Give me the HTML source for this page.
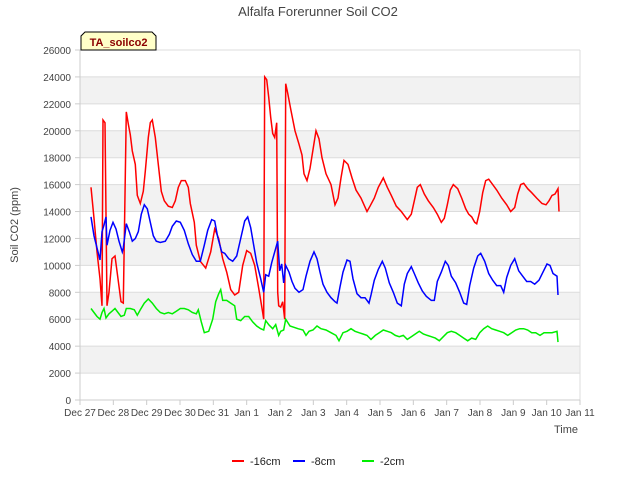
<!DOCTYPE html>
<html><head><meta charset="utf-8"><style>
body{margin:0;background:#fff;font-family:"Liberation Sans",sans-serif}
svg text{font-family:"Liberation Sans",sans-serif}
</style></head><body>
<svg id="chart" width="640" height="480" viewBox="0 0 640 480" xmlns="http://www.w3.org/2000/svg">
<rect width="640" height="480" fill="#fff"/>
<text x="318" y="16" text-anchor="middle" font-size="13" fill="#444">Alfalfa Forerunner Soil CO2</text>
<g id="grid"></g>
<g id="axes"></g>
<g id="series"></g>
<text transform="translate(18,225) rotate(-90)" text-anchor="middle" font-size="11" fill="#444">Soil CO2 (ppm)</text>
<text x="566" y="433" text-anchor="middle" font-size="11" fill="#444">Time</text>
<g>
<path d="M81,50 L81,36 L85,32 L152,32 L156,36 L156,50 Z" fill="#ffffc8" stroke="#000" stroke-width="1"/>
<text x="118.5" y="46" text-anchor="middle" font-size="11" font-weight="bold" fill="#8b0000">TA_soilco2</text>
</g>
<g id="legend"></g>
</svg>
<script>
const xTickLabels=["Dec 27","Dec 28","Dec 29","Dec 30","Dec 31","Jan 1","Jan 2","Jan 3","Jan 4","Jan 5","Jan 6","Jan 7","Jan 8","Jan 9","Jan 10","Jan 11"];
const yTicks=[0,2000,4000,6000,8000,10000,12000,14000,16000,18000,20000,22000,24000,26000];
const seriesNames=["-16cm","-8cm","-2cm"];
const redT=[0.33,0.42,0.51,0.60,0.66,0.69,0.75,0.81,0.87,0.96,1.05,1.14,1.23,1.30,1.39,1.45,1.51,1.57,1.66,1.72,1.81,1.90,1.96,2.05,2.11,2.17,2.26,2.35,2.44,2.53,2.65,2.77,2.86,2.95,3.04,3.16,3.25,3.31,3.43,3.49,3.61,3.77,3.92,4.04,4.16,4.28,4.40,4.52,4.64,4.76,4.88,5.00,5.12,5.24,5.36,5.48,5.51,5.54,5.60,5.66,5.72,5.78,5.84,5.90,5.93,5.96,6.02,6.08,6.14,6.17,6.23,6.33,6.45,6.57,6.66,6.72,6.81,6.90,6.99,7.08,7.17,7.26,7.38,7.53,7.65,7.74,7.83,7.92,8.04,8.16,8.28,8.43,8.52,8.61,8.70,8.83,8.95,9.10,9.22,9.34,9.49,9.64,9.73,9.82,9.94,10.03,10.12,10.21,10.33,10.45,10.60,10.72,10.84,10.93,11.02,11.11,11.20,11.33,11.45,11.57,11.66,11.75,11.84,11.90,11.99,12.08,12.17,12.26,12.38,12.50,12.65,12.80,12.92,13.04,13.13,13.22,13.31,13.43,13.55,13.70,13.86,13.98,14.07,14.16,14.25,14.34,14.37];
const redV=[15800,13500,11000,9000,7000,20800,20600,7000,8000,10500,10700,9000,7300,7200,21400,20500,19700,18500,17500,15200,14600,15500,17000,19500,20600,20800,19500,17500,15500,14800,14400,14300,14800,15800,16300,16300,15800,14600,13200,11500,10300,9800,11000,12700,12000,10500,9500,8200,7800,8000,10000,11100,10900,10000,8300,6500,6000,24000,23800,22500,21000,19800,19500,20600,8000,7000,6900,7300,6000,23500,22800,21500,20000,19000,18200,16800,16300,17200,18600,20000,19400,18000,16800,16000,14500,15000,16500,17800,17500,16500,15600,15000,14500,14000,14400,15000,15800,16500,15800,15200,14400,14000,13700,13400,13800,14800,15800,16000,15300,14800,14300,13800,13200,13500,14500,15600,16000,15700,15000,14200,13800,13600,13200,13100,14000,15400,16300,16400,16000,15600,15000,14500,14000,14300,15300,16000,16100,15700,15400,15000,14600,14500,14800,15200,15300,15700,14000];
const blueT=[0.33,0.42,0.51,0.60,0.66,0.72,0.78,0.81,0.90,0.99,1.08,1.17,1.27,1.30,1.39,1.48,1.57,1.66,1.75,1.84,1.93,2.02,2.11,2.20,2.29,2.41,2.56,2.68,2.77,2.89,3.01,3.13,3.25,3.37,3.49,3.61,3.73,3.83,3.95,4.04,4.13,4.25,4.34,4.46,4.58,4.70,4.82,4.94,5.03,5.12,5.21,5.30,5.42,5.51,5.57,5.66,5.75,5.84,5.93,5.99,6.05,6.11,6.17,6.27,6.36,6.45,6.57,6.69,6.78,6.90,7.02,7.11,7.20,7.29,7.41,7.53,7.65,7.71,7.80,7.89,8.01,8.10,8.19,8.31,8.43,8.55,8.67,8.73,8.83,8.95,9.07,9.16,9.28,9.40,9.52,9.64,9.73,9.82,9.94,10.03,10.15,10.27,10.39,10.54,10.63,10.72,10.84,10.96,11.05,11.14,11.27,11.39,11.51,11.60,11.69,11.81,11.93,12.02,12.14,12.26,12.38,12.50,12.62,12.71,12.80,12.92,13.04,13.16,13.28,13.40,13.52,13.64,13.77,13.89,14.01,14.10,14.19,14.31,14.34];
const blueV=[13600,12200,11300,10400,12500,13000,13600,11500,12600,13200,12700,11800,11000,11300,13100,12500,11800,12000,12500,13800,14500,14200,13200,12200,11800,11700,11800,12300,12900,13300,13200,12600,11600,10800,10300,10300,11500,12600,13400,13300,12100,11000,10900,10500,10300,10700,12000,13300,13600,12800,11500,10200,9000,8000,9300,9200,10200,11000,11800,9600,10100,8700,10000,9500,8800,8300,8000,8200,9200,10300,11000,10500,9500,8600,8000,7600,7300,7200,8400,9500,10400,10300,9000,7900,7600,7600,7200,7800,8900,9700,10300,9800,8700,8000,7200,7000,8600,9400,9900,9400,8700,8100,7700,7400,7400,8800,9500,10300,10000,9200,8700,8000,7200,7100,8500,9800,10700,10900,10300,9400,8900,8500,8500,8000,9100,10000,10500,9600,9200,8800,8800,8600,8900,9500,10100,10000,9400,9200,7800];
const greenT=[0.33,0.42,0.51,0.60,0.66,0.72,0.78,0.87,0.96,1.05,1.14,1.23,1.33,1.39,1.51,1.63,1.72,1.81,1.93,2.05,2.17,2.29,2.41,2.53,2.65,2.77,2.89,3.01,3.13,3.25,3.37,3.49,3.55,3.64,3.73,3.86,3.98,4.07,4.16,4.22,4.28,4.40,4.52,4.64,4.70,4.82,4.94,5.06,5.18,5.30,5.42,5.51,5.57,5.66,5.78,5.87,5.96,6.02,6.11,6.17,6.30,6.42,6.54,6.69,6.78,6.87,6.99,7.11,7.23,7.38,7.53,7.68,7.77,7.89,8.01,8.13,8.25,8.37,8.49,8.61,8.73,8.86,8.98,9.10,9.22,9.34,9.46,9.58,9.70,9.82,9.94,10.06,10.18,10.30,10.42,10.54,10.66,10.78,10.90,11.02,11.14,11.27,11.39,11.51,11.63,11.75,11.87,11.99,12.11,12.23,12.35,12.47,12.59,12.71,12.83,12.95,13.07,13.19,13.31,13.43,13.55,13.67,13.80,13.92,14.04,14.16,14.31,14.34];
const greenV=[6800,6500,6200,6000,6500,6800,6100,6400,6600,6800,6500,6200,6300,6800,6800,6700,6300,6700,7200,7500,7200,6800,6500,6400,6500,6400,6600,6800,6800,6700,6500,6400,6700,5800,5000,5100,6000,7300,7900,8200,7400,7400,7200,7000,6000,5900,6200,6200,5800,5500,5300,5200,5900,5600,5300,5600,4800,5100,5200,6000,5500,5400,5300,5200,4800,5100,5200,5500,5300,5200,5000,4800,4400,5000,5100,5300,5100,5000,4900,4800,4500,4800,5000,5200,5100,5000,4800,4700,4800,4500,4700,4900,5100,4900,4800,4700,4600,4400,4700,5000,5100,5000,4800,4600,4400,4600,4500,5000,5300,5500,5300,5200,5100,5000,4800,5000,5200,5300,5300,5200,5000,5000,4800,5000,5000,5000,5100,4300];

const NS="http://www.w3.org/2000/svg";
const L=80,R=580,T=50,B=400,yMax=26000,dayMax=15;
const xs=d=>L+d/dayMax*(R-L);
const ys=v=>B-v/yMax*(B-T);
function mk(tag,attrs,parent){const e=document.createElementNS(NS,tag);for(const k in attrs)e.setAttribute(k,attrs[k]);parent.appendChild(e);return e;}
const grid=document.getElementById('grid'),axes=document.getElementById('axes'),series=document.getElementById('series'),legend=document.getElementById('legend');
for(let i=0;i<yTicks.length-1;i++){
  if(i%2===1){const b=mk('rect',{x:L,y:ys(yTicks[i+1]),width:R-L,height:ys(yTicks[i])-ys(yTicks[i+1]),fill:'#f2f2f2'},grid);
  
  }
}
yTicks.forEach(v=>{
  const l=mk('line',{x1:L,x2:R,y1:ys(v),y2:ys(v),stroke:'#dcdcdc','stroke-width':1},grid);
  
  
  const t=mk('text',{x:L-9,y:ys(v)+4,'text-anchor':'end','font-size':10,fill:'#444'},axes);
  
  
  t.textContent=v;
  mk('line',{x1:L-5,x2:L,y1:ys(v),y2:ys(v),stroke:'#ccc'},axes);
});
mk('line',{x1:R,x2:R,y1:T,y2:B,stroke:'#ddd'},axes);
mk('line',{x1:L,x2:L,y1:T,y2:B,stroke:'#ccc'},axes);
mk('line',{x1:L,x2:R,y1:B,y2:B,stroke:'#ccc'},axes);
xTickLabels.forEach((s,i)=>{
  mk('line',{x1:xs(i),x2:xs(i),y1:B,y2:B+5,stroke:'#ccc'},axes);
  const t=mk('text',{x:xs(i),y:B+16,'text-anchor':'middle','font-size':10,fill:'#444'},axes);
  
  
  t.textContent=s;
});
const colors=['#ff0000','#0000ff','#00ee00'];
[[redT,redV],[blueT,blueV],[greenT,greenV]].forEach((s,k)=>{
  const d=s[0].map((t,i)=>(i?'L':'M')+xs(t).toFixed(1)+','+ys(s[1][i]).toFixed(1)).join('');
  const p=mk('path',{d:d,fill:'none',stroke:colors[k],'stroke-width':1.5},series);
  
  
});
const lx=[232,293,362];
seriesNames.forEach((n,k)=>{
  const g=mk('g',{},legend);
  
  
  mk('line',{x1:lx[k],x2:lx[k]+12,y1:461,y2:461,stroke:colors[k],'stroke-width':2},g);
  const t=mk('text',{x:lx[k]+18,y:465,'font-size':11,fill:'#222'},g);
  t.textContent=n;
});
</script>
</body></html>
